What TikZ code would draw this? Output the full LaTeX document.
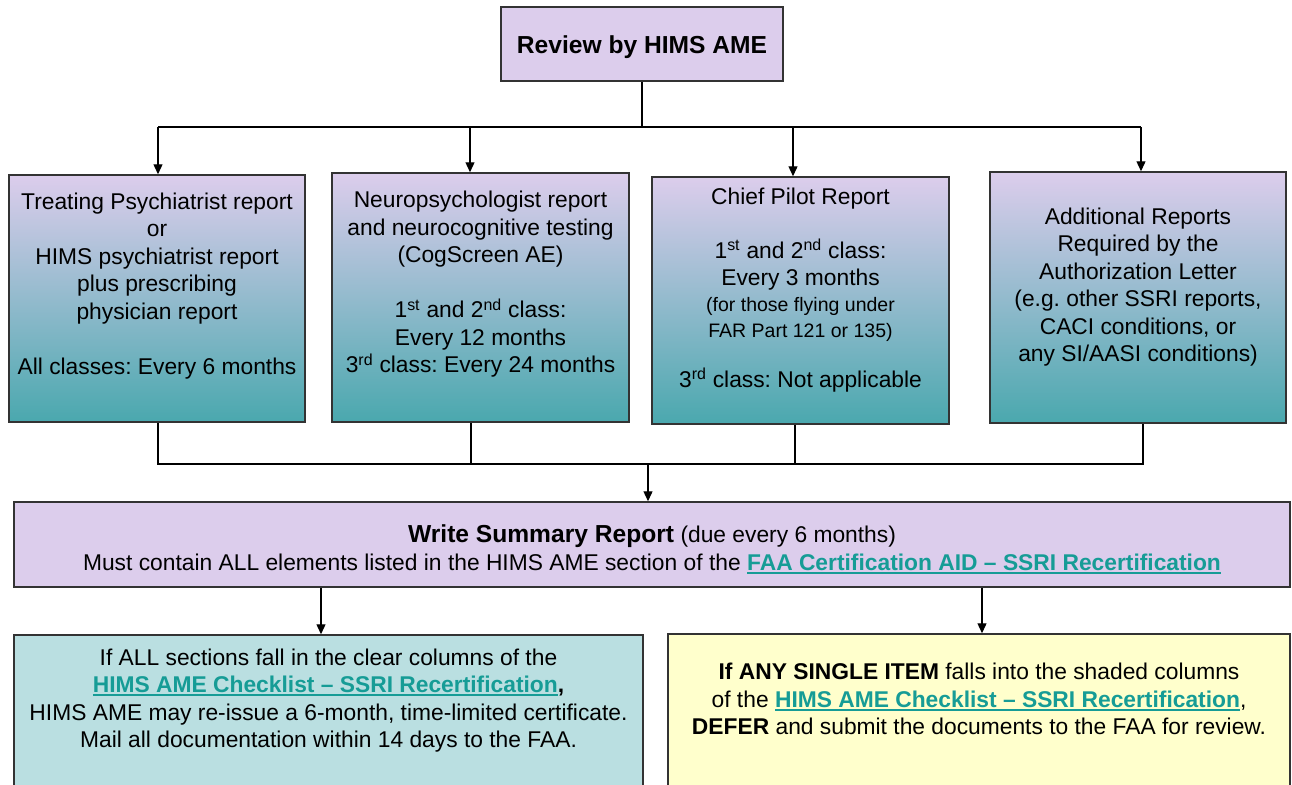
\documentclass[tikz,border=0pt]{standalone}
\usepackage{fontspec}
\setmainfont{Liberation Sans}
\usetikzlibrary{arrows.meta}
\definecolor{lav}{HTML}{DCCDEC}
\definecolor{tealb}{HTML}{4AA8AE}
\definecolor{linkc}{HTML}{169C96}
\definecolor{boxedge}{HTML}{333333}
\definecolor{lightteal}{HTML}{BADFE1}
\definecolor{lightyel}{HTML}{FFFFCC}
\frenchspacing
\newsavebox\lnkbox
\newcommand\lnk[1]{\mbox{\sbox\lnkbox{\bfseries #1}\textcolor{linkc}{\rlap{\rule[-3.5pt]{\wd\lnkbox}{1.8pt}}\bfseries #1}}}
\begin{document}
\begin{tikzpicture}[x=1pt,y=-1pt,
  box/.style={draw=boxedge,line width=1.5pt,inner sep=0pt,rectangle},
  grad/.style={box,top color=lav,bottom color=tealb},
  txt/.style={align=center,inner sep=0pt,font=\fontsize{22.8}{27.5}\selectfont\frenchspacing},
  bigtxt/.style={align=center,inner sep=0pt,font=\fontsize{24.6}{29}\selectfont\bfseries},
  smalltxt/.style={align=center,inner sep=0pt,font=\fontsize{19.5}{26}\selectfont},
  conn/.style={line width=1.3pt},
  arr/.style={conn,-{Triangle[width=9pt,length=10pt]}}]
\useasboundingbox (0,0) rectangle (1292,784);
\fill[white] (0,0) rectangle (1292,784);
% boxes
\node[box,fill=lav,minimum width=282pt,minimum height=74pt] (top) at (642,44) {};
\node[grad,minimum width=296pt,minimum height=247pt] (b1) at (157,298.5) {};
\node[grad,minimum width=297pt,minimum height=249pt] (b2) at (480.5,297.5) {};
\node[grad,minimum width=297pt,minimum height=247pt] (b3) at (800.5,300.5) {};
\node[grad,minimum width=296pt,minimum height=251pt] (b4) at (1138,297.5) {};
\node[box,fill=lav,minimum width=1276pt,minimum height=85pt] (sum) at (652,544.5) {};
\node[box,fill=lightteal,minimum width=629pt,minimum height=165pt] (bl) at (328.5,717.5) {};
\node[box,fill=lightyel,minimum width=622pt,minimum height=166pt] (br) at (979,717) {};
% texts
\node[bigtxt] (ttop) at (642,47) {Review by HIMS AME};
\node[txt] (t1) at (157,286) {Treating Psychiatrist report\\or\\HIMS psychiatrist report\\plus prescribing\\physician report\\[27.5pt]All classes: Every 6 months};
\node[txt] (t2) at (480.5,284.5) {Neuropsychologist report\\and neurocognitive testing\\(CogScreen AE)\\[27.5pt]1\textsuperscript{st} and 2\textsuperscript{nd} class:\\Every 12 months\\3\textsuperscript{rd} class: Every 24 months};
\node[txt] (t3a) at (800.5,198.5) {Chief Pilot Report};
\node[txt] (t3b) at (800.5,265) {1\textsuperscript{st} and 2\textsuperscript{nd} class:\\Every 3 months};
\node[smalltxt] (t3c) at (800.5,319) {(for those flying under\\FAR Part 121 or 135)};
\node[txt] (t3d) at (800.5,380) {3\textsuperscript{rd} class: Not applicable};
\node[txt] (t4) at (1138,287) {Additional Reports\\Required by the\\Authorization Letter\\(e.g. other SSRI reports,\\CACI conditions, or\\any SI/AASI conditions)};
\node[txt,font=\fontsize{22.8}{28}\selectfont] (ts) at (652,549) {{\fontsize{24.6}{28}\selectfont\bfseries Write Summary Report} (due every 6 months)\\Must contain ALL elements listed in the HIMS AME section of the \lnk{FAA Certification AID – SSRI Recertification}};
\node[txt] (tbl) at (328.5,700.5) {If ALL sections fall in the clear columns of the\\\lnk{HIMS AME Checklist – SSRI Recertification}\textbf{,}\\HIMS AME may re-issue a 6-month, time-limited certificate.\\Mail all documentation within 14 days to the FAA.};
\node[txt] (tbr) at (979,699) {\textbf{If ANY SINGLE ITEM} falls into the shaded columns\\of the \lnk{HIMS AME Checklist – SSRI Recertification},\\\textbf{DEFER} and submit the documents to the FAA for review.};
% connectors
\coordinate (bus) at (642,127);
\coordinate (busL) at (158,127);
\coordinate (a2) at (470,127);
\coordinate (a3) at (793,127);
\coordinate (busR) at (1141,127);
\draw[conn] (top.south) -- (bus);
\draw[conn] (busL) -- (busR);
\draw[arr] (busL) -- (busL |- b1.north);
\draw[arr] (a2) -- (a2 |- b2.north);
\draw[arr] (a3) -- (a3 |- b3.north);
\draw[arr] (busR) -- (busR |- b4.north);
\coordinate (jL) at (158,464);
\coordinate (j2) at (471,464);
\coordinate (j3) at (795,464);
\coordinate (jR) at (1143,464);
\coordinate (jm) at (648,464);
\draw[conn] (jL |- b1.south) -- (jL) -- (jR) -- (jR |- b4.south);
\draw[conn] (j2 |- b2.south) -- (j2);
\draw[conn] (j3 |- b3.south) -- (j3);
\draw[arr] (jm) -- (jm |- sum.north);
\coordinate (dl) at (321,610);
\coordinate (dr) at (982,610);
\draw[arr] (dl |- sum.south) -- (dl |- bl.north);
\draw[arr] (dr |- sum.south) -- (dr |- br.north);
\end{tikzpicture}
\end{document}
